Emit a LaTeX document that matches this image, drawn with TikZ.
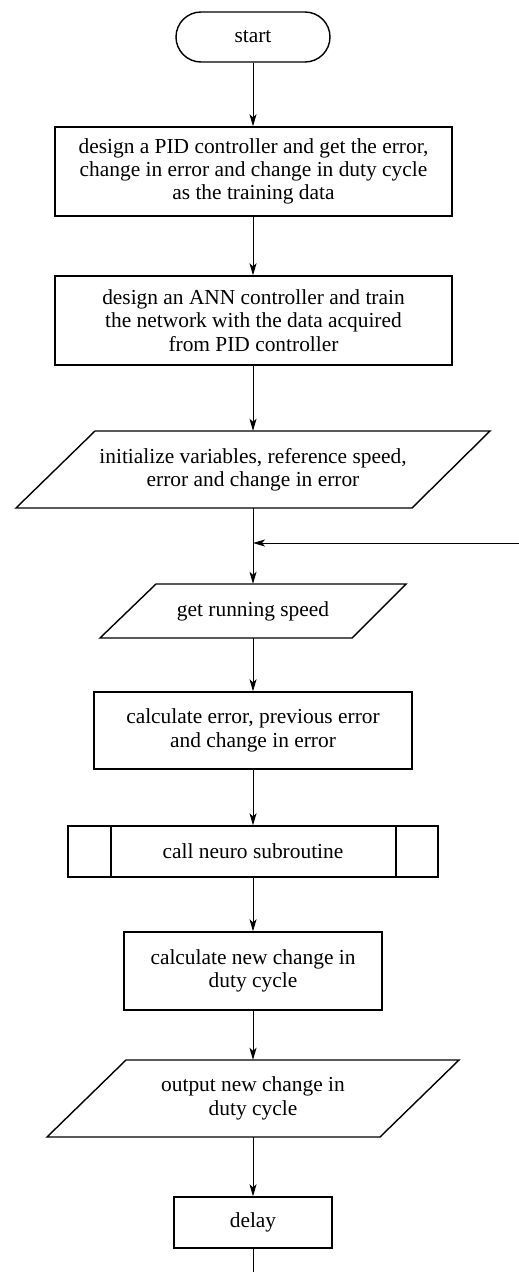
\documentclass[tikz,border=0pt]{standalone}
\usepackage{fontspec}
\setmainfont{Liberation Serif}
\usetikzlibrary{arrows.meta}
\begin{document}
\begin{tikzpicture}[x=1pt,y=-1pt,
  shapeline/.style={line width=1.4pt,line join=miter},
  boxnode/.style={draw,shapeline,rectangle,inner sep=0pt,align=center,font=\fontsize{21.4}{23.3}\selectfont},
  txtnode/.style={inner sep=0pt,align=center,font=\fontsize{21.4}{23.3}\selectfont},
  flow/.style={line width=1pt,-{Stealth[length=12pt,width=7pt,inset=3pt]}},
  plain/.style={line width=1pt}]
\useasboundingbox (0,0) rectangle (519,1272);
% start
\node[boxnode,rounded corners=25pt,minimum width=154pt,minimum height=50pt] (start) at (253,37) {start};
\node[boxnode,minimum width=397pt,minimum height=89pt] (b1) at (253.5,171.5) {design a PID controller and get the error,\\change in error and change in duty cycle\\as the training data};
\node[boxnode,minimum width=397pt,minimum height=89pt] (b2) at (253.5,320.5) {design an ANN controller and train\\the network with the data acquired\\from PID controller};
% parallelogram 1
\draw[shapeline] (95,431) -- (490,431) -- (412,508) -- (16,508) -- cycle;
\node[txtnode,minimum width=300pt,minimum height=77pt] (p1) at (253,469.5) {initialize variables, reference speed,\\error and change in error};
\coordinate (merge) at (253,543);
\coordinate (fb) at (519,543);
% parallelogram 2
\draw[shapeline] (156,584) -- (406,584) -- (352,638) -- (100,638) -- cycle;
\node[txtnode,minimum width=200pt,minimum height=54pt] (p2) at (253,611) {get running speed};
\node[boxnode,minimum width=318pt,minimum height=77pt] (b3) at (253,730.5) {calculate error, previous error\\and change in error};
% subroutine
\node[boxnode,minimum width=370pt,minimum height=51pt] (sub) at (253,851.5) {call neuro subroutine};
\draw[shapeline] (111,826) -- (111,877) (396,826) -- (396,877);
\node[boxnode,minimum width=258pt,minimum height=78pt] (b4) at (253,971) {calculate new change in\\duty cycle};
% parallelogram 3
\draw[shapeline] (126,1060) -- (459,1060) -- (380,1137) -- (47,1137) -- cycle;
\node[txtnode,minimum width=250pt,minimum height=77pt] (p3) at (253,1098.5) {output new change in\\duty cycle};
\node[boxnode,minimum width=158pt,minimum height=51pt] (delay) at (253,1222.5) {delay};
\coordinate (end) at (253,1272);
% connectors
\draw[flow] (start.south) -- (b1.north -| start.south);
\draw[flow] (b1.south -| start.south) -- (b2.north -| start.south);
\draw[flow] (b2.south -| start.south) -- (p1.north -| start.south);
\draw[flow] (p1.south -| start.south) -- (p2.north -| start.south);
\draw[flow] (fb) -- (merge);
\draw[flow] (p2.south -| start.south) -- (b3.north -| start.south);
\draw[flow] (b3.south -| start.south) -- (sub.north -| start.south);
\draw[flow] (sub.south -| start.south) -- (b4.north -| start.south);
\draw[flow] (b4.south -| start.south) -- (p3.north -| start.south);
\draw[flow] (p3.south -| start.south) -- (delay.north -| start.south);
\draw[plain] (delay.south -| start.south) -- (end);
\end{tikzpicture}
\end{document}
